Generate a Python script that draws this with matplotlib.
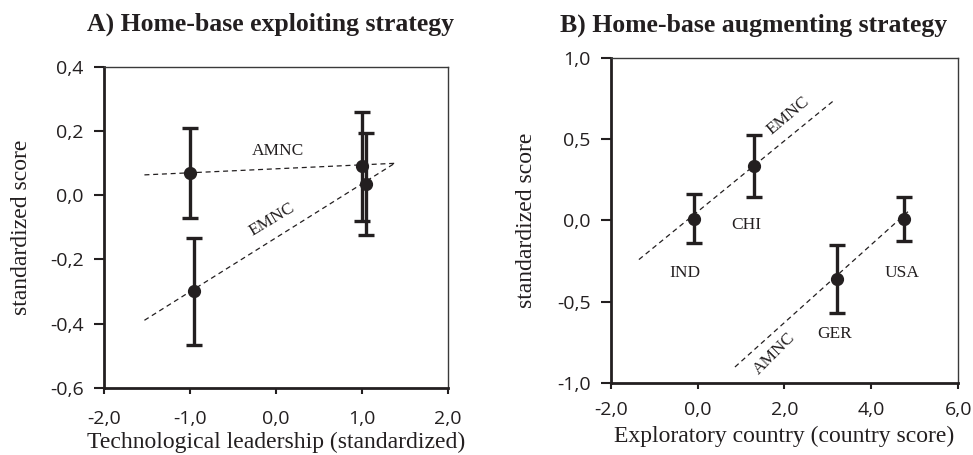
import matplotlib
matplotlib.use("Agg")
import matplotlib.pyplot as plt
from matplotlib.ticker import FuncFormatter, MultipleLocator

# panel A: home-base exploiting strategy
a_x = [-1.0, -0.95, 1.0, 1.05]
a_y = [0.07, -0.30, 0.09, 0.035]
a_err = [0.14, 0.167, 0.17, 0.16]
a_line_x = [-1.53, 1.38]
a_amnc_y = [0.063, 0.099]
a_emnc_y = [-0.39, 0.099]

# panel B: home-base augmenting strategy
b_x = [-0.08, 1.30, 3.20, 4.75]
b_y = [0.01, 0.334, -0.358, 0.01]
b_err = [0.15, 0.19, 0.21, 0.135]
b_countries = ["IND", "CHI", "GER", "USA"]
b_label_x = [-0.29, 1.13, 3.16, 4.71]
b_label_y = [-0.32, -0.03, -0.70, -0.32]
b_emnc_x = [-1.35, 3.15]
b_emnc_y = [-0.24, 0.74]
b_amnc_x = [0.86, 4.90]
b_amnc_y = [-0.90, 0.068]

INK = "#231f20"
SERIF = "Liberation Serif"
SANS = "Open Sans"

comma = FuncFormatter(lambda v, pos: f"{v:.1f}".replace(".", ","))


def style_axes(ax, xpad):
    for side in ("left", "bottom"):
        ax.spines[side].set_linewidth(2.0)
        ax.spines[side].set_color(INK)
    for side in ("top", "right"):
        ax.spines[side].set_linewidth(1.0)
        ax.spines[side].set_color("#3a3a3a")
    ax.tick_params(axis="x", direction="out", length=4, width=1.5, color=INK,
                   labelsize=14, pad=xpad)
    ax.tick_params(axis="y", direction="out", length=7.5, width=1.5, color=INK,
                   labelsize=14, pad=7)
    for lab in ax.get_xticklabels() + ax.get_yticklabels():
        lab.set_family(SANS)
        lab.set_color(INK)
    ax.xaxis.set_major_formatter(comma)
    ax.yaxis.set_major_formatter(comma)


def draw_points(ax, x, y, err):
    ax.errorbar(x, y, yerr=err, fmt="o", color=INK, markersize=8.5,
                elinewidth=2.4, capsize=5.5, capthick=2.4, zorder=3)


fig = plt.figure(figsize=(9.73, 4.55), dpi=100)

# ---- A
ax1 = fig.add_axes([0.1069, 0.1479, 0.3535, 0.7055])
ax1.plot(a_line_x, a_amnc_y, ls=(0, (4, 3)), lw=0.9, color=INK)
ax1.plot(a_line_x, a_emnc_y, ls=(0, (4, 3)), lw=0.9, color=INK)
draw_points(ax1, a_x, a_y, a_err)
ax1.set_xlim(-2.0, 2.0)
ax1.set_ylim(-0.6, 0.4)
ax1.xaxis.set_major_locator(MultipleLocator(1.0))
ax1.yaxis.set_major_locator(MultipleLocator(0.2))
style_axes(ax1, xpad=12)
ax1.text(0.02, 0.137, "AMNC", family=SERIF, fontsize=12.5, color=INK,
         ha="center", va="center")
ax1.text(-0.05, -0.075, "EMNC", family=SERIF, fontsize=12.5, color=INK,
         ha="center", va="center", rotation=31)
ax1.set_title("A) Home-base exploiting strategy", family=SERIF,
              fontweight="bold", fontsize=18.5, color=INK, pad=26, x=0.484)
ax1.set_xlabel("Technological leadership (standardized)", family=SERIF,
               fontsize=17, color=INK, labelpad=3)
ax1.set_ylabel("standardized score", family=SERIF, fontsize=17, color=INK)
ax1.yaxis.set_label_coords(-0.209, 0.5)

# ---- B
ax2 = fig.add_axes([0.6276, 0.1576, 0.3573, 0.7156])
ax2.plot(b_emnc_x, b_emnc_y, ls=(0, (4, 3)), lw=0.9, color=INK)
ax2.plot(b_amnc_x, b_amnc_y, ls=(0, (4, 3)), lw=0.9, color=INK)
draw_points(ax2, b_x, b_y, b_err)
for name, lx, ly in zip(b_countries, b_label_x, b_label_y):
    ax2.text(lx, ly, name, family=SERIF, fontsize=12.5, color=INK,
             ha="center", va="center")
ax2.text(2.08, 0.645, "EMNC", family=SERIF, fontsize=12.5, color=INK,
         ha="center", va="center", rotation=40)
ax2.text(1.78, -0.82, "AMNC", family=SERIF, fontsize=12.5, color=INK,
         ha="center", va="center", rotation=45, clip_on=False, zorder=5,
         bbox=dict(boxstyle="square,pad=0.05", fc="white", ec="none"))
ax2.set_xlim(-2.0, 6.0)
ax2.set_ylim(-1.0, 1.0)
ax2.xaxis.set_major_locator(MultipleLocator(2.0))
ax2.yaxis.set_major_locator(MultipleLocator(0.5))
style_axes(ax2, xpad=9)
ax2.set_title("B) Home-base augmenting strategy", family=SERIF,
              fontweight="bold", fontsize=18.5, color=INK, pad=19, x=0.411)
ax2.set_xlabel("Exploratory country (country score)", family=SERIF,
               fontsize=17, color=INK, labelpad=5)
ax2.set_ylabel("standardized score", family=SERIF, fontsize=17, color=INK)
ax2.yaxis.set_label_coords(-0.212, 0.5)

fig.savefig("out.png", dpi=100)
